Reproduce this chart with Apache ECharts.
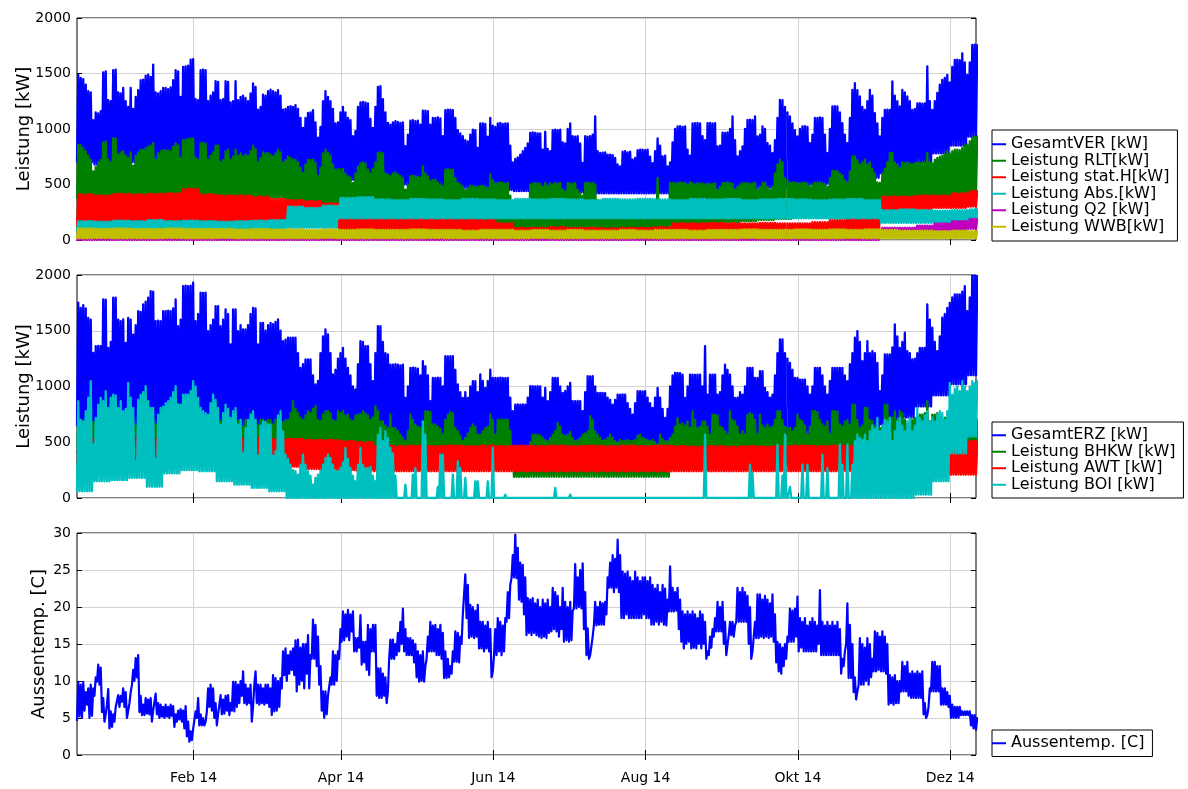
<!DOCTYPE html>
<html>
<head>
<meta charset="utf-8">
<script src="https://cdn.jsdelivr.net/npm/echarts@6/dist/echarts.min.js"></script>
<style>
  html, body { margin: 0; padding: 0; background: #ffffff; }
  #chart { width: 1188px; height: 789px; }
</style>
</head>
<body>
<div id="chart"></div>
<script>
// Hourly logger values condensed to one daily low and one daily high per channel.
// Daily arrays: one entry per day from 16.12.2013; weekly arrays: one entry per week.

const MONTH_TICKS = ['2014-02-01', '2014-04-01', '2014-06-01', '2014-08-01', '2014-10-01', '2014-12-01'];
const MONTH_LABELS = ['Feb 14', 'Apr 14', 'Jun 14', 'Aug 14', 'Okt 14', 'Dez 14'];
const POWER_TICKS = [0, 500, 1000, 1500, 2000];
const TEMP_TICKS = [0, 5, 10, 15, 20, 25, 30];
const MISSING_DAYS = [284];

// ---- Verbraucher (kW) ----
const VER_HI = [
  1490, 1460, 1450, 1400, 1340, 1330, 1080,
  1150, 1140, 1160, 1510, 1520, 1260, 1250,
  1530, 1535, 1330, 1320, 1370, 1250, 1200,
  1370, 1180, 1290, 1350, 1440, 1445, 1480,
  1490, 1470, 1580, 1330, 1320, 1340, 1370,
  1370, 1360, 1375, 1440, 1530, 1520, 1290,
  1560, 1565, 1570, 1625, 1630, 1270, 1260,
  1530, 1535, 1530, 1250, 1300, 1330, 1430,
  1425, 1260, 1270, 1430, 1425, 1240, 1250,
  1430, 1260, 1290, 1300, 1280, 1250, 1320,
  1410, 1380, 1175, 1200, 1310, 1300, 1340,
  1355, 1340, 1330, 1350, 1300, 1175, 1180,
  1200, 1205, 1200, 1215, 1180, 1100, 1010,
  1100, 1145, 1150, 1170, 1060, 922, 1020,
  1250, 1340, 1290, 1250, 1180, 1050, 1060,
  1150, 1200, 1150, 1100, 1080, 935, 980,
  1200, 1240, 1245, 1240, 1230, 1090, 1010,
  1200, 1380, 1385, 1270, 1150, 1055, 1040,
  1060, 1070, 1065, 1055, 1060, 845, 950,
  1075, 1080, 1070, 1075, 1040, 1165, 1165,
  1160, 1040, 1100, 1100, 1105, 1095, 935,
  1170, 1175, 1175, 1170, 1100, 990, 960,
  935, 900, 888, 950, 995, 990, 830,
  1050, 1050, 1045, 930, 1100, 1030, 1020,
  1050, 1055, 1045, 1050, 1050, 850, 700,
  730, 745, 770, 800, 830, 870, 965,
  970, 965, 960, 960, 815, 975, 820,
  800, 990, 995, 990, 995, 880, 870,
  1000, 1050, 935, 930, 935, 870, 695,
  935, 930, 935, 950, 1113, 800, 785,
  786, 790, 770, 768, 765, 740, 680,
  663, 795, 800, 790, 795, 725, 740,
  810, 813, 815, 810, 813, 750, 693,
  800, 915, 850, 753, 760, 663, 700,
  880, 1000, 1023, 1025, 1020, 1023, 815,
  760, 1050, 1053, 1055, 1050, 935, 900,
  1053, 1055, 1050, 1052, 843, 850, 966,
  965, 970, 1000, 1113, 900, 753, 800,
  843, 1000, 1083, 1085, 1080, 1113, 933,
  950, 1023, 1000, 873, 850, 783, 900,
  1100, 1263, 1260, 1200, 1150, 1113, 1050,
  990, 933, 1000, 1023, 1025, 1020, 873,
  950, 1100, 1100, 1105, 1100, 950, 783,
  1000, 1203, 1205, 1203, 1150, 1053, 950,
  873, 1100, 1353, 1413, 1350, 1293, 1200,
  1173, 1250, 1353, 1300, 1143, 1050, 933,
  1100, 1173, 1175, 1173, 1428, 1300, 1250,
  1203, 1353, 1330, 1293, 1250, 1173, 1180,
  1230, 1232, 1228, 1230, 1563, 1250, 1173,
  1250, 1325, 1400, 1443, 1460, 1488, 1420,
  1560, 1623, 1625, 1620, 1680, 1600, 1488,
  1600, 1757, 1760, 1755
];
const VER_LO_WEEKLY = [
  700, 680, 700, 700, 720, 720, 730, 700, 680, 680, 650, 640,
  600, 580, 560, 540, 530,
  520, 500, 500, 490, 480, 470, 460, 450, 440,
  440, 430, 430, 420, 420, 420, 420, 420, 430, 430,
  440, 450, 460, 470, 480, 490, 500, 510, 520,
  560, 600, 650, 700, 780, 850, 930
];

const RLT_HI = [
  858, 855, 830, 800, 760, 724, 619,
  660, 700, 720, 880, 888, 724, 700,
  918, 915, 770, 790, 800, 760, 740,
  790, 670, 760, 790, 814, 810, 830,
  840, 850, 873, 724, 780, 800, 810,
  810, 805, 800, 840, 873, 850, 740,
  900, 905, 910, 912, 915, 740, 720,
  873, 875, 870, 724, 760, 790, 850,
  850, 700, 720, 800, 814, 724, 750,
  814, 760, 780, 754, 770, 760, 800,
  850, 820, 700, 740, 790, 780, 784,
  770, 754, 780, 814, 790, 700, 720,
  754, 740, 724, 724, 700, 650, 604,
  680, 724, 720, 724, 700, 575, 650,
  780, 814, 784, 760, 680, 634, 640,
  634, 640, 600, 575, 560, 515, 600,
  660, 690, 700, 690, 634, 600, 640,
  700, 784, 790, 780, 600, 589, 575,
  600, 610, 590, 575, 560, 454, 500,
  575, 580, 575, 570, 560, 664, 600,
  575, 530, 540, 545, 520, 500, 480,
  634, 640, 630, 634, 560, 514, 500,
  480, 454, 470, 490, 484, 480, 484,
  484, 490, 480, 470, 589, 540, 514,
  514, 520, 514, 510, 514, 400, 250,
  240, 230, 245, 250, 240, 230, 500,
  510, 514, 510, 505, 480, 514, 490,
  510, 500, 514, 510, 514, 454, 440,
  514, 510, 505, 514, 454, 420, 400,
  514, 520, 510, 514, 500, 360, 250,
  250, 245, 240, 250, 245, 230, 230,
  240, 250, 245, 250, 240, 230, 240,
  245, 250, 245, 240, 250, 230, 240,
  245, 560, 250, 245, 240, 230, 514,
  514, 510, 514, 520, 514, 514, 500,
  520, 514, 500, 514, 505, 510, 500,
  510, 500, 505, 510, 454, 480, 514,
  514, 520, 510, 505, 454, 480, 500,
  514, 510, 514, 505, 510, 514, 454,
  480, 514, 520, 480, 454, 480, 600,
  680, 724, 700, 560, 540, 514, 520,
  520, 514, 510, 514, 520, 510, 480,
  500, 514, 520, 514, 510, 500, 480,
  560, 622, 620, 622, 600, 580, 540,
  520, 620, 754, 754, 720, 680, 700,
  724, 680, 700, 640, 600, 520, 514,
  600, 640, 700, 784, 784, 700, 680,
  650, 700, 690, 700, 690, 680, 690,
  700, 700, 690, 700, 784, 700, 690,
  724, 740, 750, 760, 770, 800, 780,
  800, 814, 815, 810, 830, 850, 860,
  890, 920, 930, 933
];
const RLT_LO_WEEKLY = [
  380, 380, 380, 380, 380, 380, 380, 380, 380, 380, 380, 380,
  300, 250, 200, 180, 160,
  105, 105, 105, 105, 105, 105, 105, 105, 105, 105, 105, 105, 105, 105, 105, 105, 105,
  130, 140, 150, 160, 170, 180, 190, 200, 200, 200, 220, 240,
  300, 330, 350, 380, 400, 420
];

const STATH_HI_WEEKLY = [
  410, 400, 415, 410, 415, 420, 460, 410, 400, 400, 390, 370,
  360, 350, 330, 220, 210,
  210, 200, 200, 190, 190, 190, 180, 150, 110,
  110, 115, 110, 110, 105, 110, 110, 115,
  150, 150, 155, 150, 150, 155, 150, 150, 160,
  180, 200, 220,
  390, 390, 400, 400, 420, 440
];
const STATH_LO_WEEKLY = [
  120, 120, 120, 120, 120, 120, 120, 120, 120, 120, 120, 120, 120, 120, 120,
  30, 30, 30, 30, 30, 30, 30, 30, 30, 30, 30, 30, 30, 30, 30, 30,
  30, 30, 30, 30, 30, 30, 30, 30, 30, 30, 30, 30, 30, 30, 30,
  270, 280, 280, 290, 290, 300
];

const ABS_HI_WEEKLY = [
  170, 165, 175, 170, 180, 170, 175, 170, 165, 170, 175, 180,
  300, 290, 310, 380, 385,
  365, 360, 370, 365, 360, 370, 365, 360, 370, 365,
  370, 365, 360, 370, 365, 370, 365, 360, 370, 365,
  370, 360, 365, 370, 365, 360, 365, 370, 360,
  270, 275, 270, 265, 270, 275
];
const ABS_LO_WEEKLY = [
  90, 90, 90, 90, 90, 90, 90, 90, 90, 90, 90, 90,
  110, 110, 110,
  195, 195, 195, 195, 195, 195, 195, 195, 195, 195, 195,
  195, 195, 195, 195, 195, 195, 195, 195, 195, 195,
  195, 195, 195, 195, 195, 195, 195, 195, 195, 195,
  155, 155, 155, 155, 155, 155
];

const Q2_HI_WEEKLY = [
  60, 60, 60, 60, 60, 60, 60, 60, 60, 60,
  60, 60, 60, 60, 60, 60, 60, 60, 60, 60,
  60, 60, 60, 60, 60, 60, 60, 60, 60, 60,
  60, 60, 60, 60, 60, 60, 60, 60, 60, 60,
  60, 60, 60, 60, 60,
  90, 110, 110, 130, 150, 170, 190
];
const Q2_LO_WEEKLY = [
  0, 0, 0, 0, 0, 0, 0, 0, 0, 0,
  0, 0, 0, 0, 0, 0, 0, 0, 0, 0,
  0, 0, 0, 0, 0, 0, 0, 0, 0, 0,
  0, 0, 0, 0, 0, 0, 0, 0, 0, 0,
  0, 0, 0, 0, 0, 0,
  60, 60, 70, 80, 90, 100
];

const WWB_HI_WEEKLY = [
  105, 100, 105, 100, 100, 105, 100, 100, 100, 95,
  100, 95, 95, 90, 95, 90, 95, 90, 90, 95,
  90, 90, 85, 90, 90, 85, 90, 85, 90, 85,
  85, 90, 85, 90, 90, 85, 90, 90, 95, 90,
  90, 95, 90, 95, 90, 95, 90, 85, 85, 80,
  85, 80
];
const WWB_LO_WEEKLY = [
  15, 18, 15, 16, 15, 18, 15, 15, 17, 15,
  15, 16, 15, 15, 18, 15, 15, 16, 15, 15,
  17, 15, 15, 16, 15, 15, 18, 15, 15, 16,
  15, 15, 17, 15, 15, 16, 15, 15, 18, 15,
  15, 16, 15, 15, 17, 15, 15, 16, 15, 15,
  18, 15
];

// ---- Erzeuger (kW) ----
const ERZ_HI = [
  1751, 1706, 1730, 1700, 1616, 1600, 1302,
  1362, 1365, 1362, 1781, 1780, 1347, 1400,
  1796, 1796, 1600, 1586, 1601, 1392, 1616,
  1600, 1467, 1550, 1676, 1670, 1736, 1760,
  1796, 1856, 1850, 1586, 1590, 1586, 1676,
  1676, 1680, 1676, 1700, 1781, 1541, 1600,
  1901, 1905, 1900, 1905, 1931, 1586, 1650,
  1841, 1840, 1841, 1496, 1550, 1600, 1721,
  1720, 1541, 1600, 1691, 1650, 1377, 1691,
  1691, 1496, 1550, 1511, 1511, 1550, 1650,
  1706, 1700, 1377, 1571, 1570, 1500, 1550,
  1571, 1560, 1580, 1601, 1500, 1407, 1420,
  1437, 1437, 1437, 1437, 1300, 1167, 1200,
  1242, 1242, 1242, 1100, 1018, 1050, 1300,
  1450, 1511, 1467, 1300, 1108, 1150, 1250,
  1300, 1347, 1250, 1167, 1100, 1000, 973,
  1200, 1407, 1400, 1362, 1362, 1200, 1048,
  1300, 1541, 1541, 1400, 1300, 1287, 1197,
  1197, 1200, 1197, 1190, 1197, 898, 1000,
  1167, 1170, 1167, 1160, 1100, 1227, 1182,
  1100, 868, 1077, 1077, 1080, 1077, 1000,
  1272, 1270, 1272, 1272, 1150, 1018, 950,
  898, 950, 898, 1000, 1048, 1048, 950,
  1108, 1050, 988, 1050, 1152, 1077, 1077,
  1077, 1080, 1077, 1075, 1077, 900, 778,
  838, 840, 838, 840, 838, 900, 1003,
  1003, 1000, 1003, 1000, 900, 988, 868,
  950, 1077, 1077, 1077, 1000, 943, 960,
  1000, 1033, 868, 868, 870, 868, 778,
  950, 1092, 1090, 1092, 1000, 943, 943,
  943, 940, 900, 880, 838, 880, 928,
  928, 930, 928, 850, 800, 748, 850,
  958, 958, 955, 958, 900, 850, 808,
  900, 988, 900, 800, 718, 800, 1000,
  1100, 1122, 1122, 1120, 1107, 898, 1000,
  1107, 1107, 1105, 1107, 1107, 1000, 1362,
  928, 1107, 1107, 1107, 928, 950, 1100,
  1197, 1150, 1107, 1000, 898, 900, 950,
  928, 1000, 1167, 1167, 1167, 1077, 1077,
  1137, 1137, 988, 950, 900, 928, 1100,
  1300, 1422, 1422, 1300, 1250, 1212, 1150,
  1077, 1077, 1062, 1062, 1062, 1000, 928,
  1000, 1167, 1167, 1167, 1100, 1000, 928,
  1050, 1167, 1167, 1167, 1167, 1167, 1100,
  1048, 1200, 1300, 1437, 1497, 1400, 1227,
  1300, 1407, 1300, 1317, 1300, 1212, 958,
  1100, 1287, 1287, 1287, 1350, 1557, 1450,
  1347, 1400, 1482, 1317, 1300, 1242, 1250,
  1300, 1347, 1347, 1347, 1736, 1600, 1527,
  1400, 1317, 1450, 1617, 1650, 1706, 1750,
  1800, 1826, 1826, 1826, 1850, 1901, 1676,
  1800, 1991, 1991, 1991
];
const ERZ_LO_WEEKLY = [
  650, 650, 650, 650, 660, 660, 660, 660, 650, 650, 640, 640,
  620, 600, 580, 560, 540,
  520, 510, 500, 500, 490, 480, 470, 460, 450,
  450, 450, 440, 440, 440, 440, 440, 440,
  540, 550, 560, 560, 570, 570, 570, 580, 580, 580, 590,
  620, 660, 720, 820, 920, 1020, 1100
];

const BHKW_HI = [
  700, 700, 690, 700, 703, 700, 680,
  690, 700, 700, 703, 700, 690, 700,
  703, 700, 695, 700, 700, 690, 700,
  700, 690, 650, 703, 700, 700, 695,
  700, 703, 700, 660, 700, 700, 703,
  700, 700, 695, 700, 703, 690, 700,
  703, 700, 700, 703, 700, 690, 700,
  700, 700, 703, 690, 700, 700, 700,
  703, 690, 700, 700, 703, 690, 700,
  700, 690, 700, 640, 700, 690, 700,
  703, 700, 650, 700, 700, 690, 700,
  700, 660, 703, 700, 690, 680, 700,
  700, 760, 868, 800, 760, 720, 700,
  740, 778, 760, 800, 823, 700, 690,
  750, 778, 780, 760, 700, 690, 778,
  760, 778, 740, 748, 700, 690, 740,
  748, 750, 778, 760, 740, 700, 720,
  823, 778, 688, 688, 650, 629, 748,
  629, 629, 600, 569, 540, 509, 600,
  748, 700, 659, 640, 629, 640, 778,
  778, 770, 659, 659, 640, 620, 569,
  700, 748, 770, 760, 629, 600, 560,
  509, 540, 580, 629, 659, 640, 569,
  569, 600, 629, 640, 748, 700, 569,
  703, 703, 700, 703, 703, 600, 400,
  380, 360, 380, 370, 380, 360, 500,
  569, 569, 569, 560, 540, 520, 509,
  540, 569, 600, 673, 640, 569, 560,
  569, 590, 540, 509, 520, 540, 569,
  580, 600, 733, 700, 600, 569, 540,
  509, 520, 540, 569, 540, 509, 500,
  520, 509, 515, 520, 509, 509, 520,
  560, 569, 540, 530, 520, 509, 520,
  500, 480, 569, 530, 509, 509, 540,
  569, 640, 718, 658, 670, 650, 688,
  629, 778, 700, 629, 640, 688, 688,
  640, 569, 748, 748, 740, 640, 629,
  600, 569, 778, 700, 688, 640, 569,
  600, 569, 748, 760, 748, 700, 569,
  748, 650, 629, 659, 629, 640, 700,
  778, 778, 700, 640, 630, 629, 600,
  629, 748, 700, 688, 650, 569, 640,
  778, 778, 770, 700, 659, 640, 688,
  569, 778, 778, 775, 659, 640, 688,
  700, 659, 838, 838, 700, 629, 650,
  808, 808, 700, 688, 640, 629, 629,
  640, 838, 838, 720, 720, 778, 700,
  778, 760, 700, 659, 650, 700, 718,
  720, 748, 748, 760, 868, 690, 748,
  748, 760, 688, 700, 720, 700, 700,
  700, 720, 700, 700, 720, 700, 700,
  700, 700, 700, 700
];
const BHKW_LO_WEEKLY = [
  400, 400, 400, 400, 400, 400, 400, 400, 400, 400, 400, 400,
  350, 300, 300, 300, 300,
  270, 270, 270, 270, 270, 270, 270, 270,
  190, 190, 190, 190, 190, 190, 190, 190, 190,
  290, 290, 290, 290, 290, 290, 290, 290, 290,
  290, 290, 290, 290, 290, 290, 290, 290, 290
];

const AWT_HI_WEEKLY = [
  540, 545, 540, 550, 540, 545, 540, 545, 540, 535, 540, 530,
  530, 520, 520, 510, 500,
  470, 465, 470, 465, 470, 465, 470, 465, 470, 465,
  470, 465, 470, 465, 470, 465, 470, 465, 460, 465,
  460, 465, 460, 465, 470, 465, 470, 465, 470,
  480, 490, 500, 510, 510, 510
];
const AWT_LO_WEEKLY = [
  320, 320, 320, 320, 320, 320, 320, 320, 320, 320, 320, 320,
  280, 260, 250, 250, 245,
  240, 240, 240, 240, 240, 240, 240, 240, 240, 240,
  240, 240, 240, 240, 240, 240, 240, 240, 240, 240,
  240, 240, 240, 240, 240, 240, 240, 240, 240,
  230, 220, 220, 210, 210, 210
];

const BOI_HI = [
  868, 700, 688, 778, 900, 1048, 480,
  718, 838, 898, 870, 958, 808, 900,
  928, 920, 808, 868, 778, 800, 1033,
  900, 808, 330, 880, 928, 950, 1003,
  868, 808, 808, 350, 748, 808, 820,
  850, 868, 900, 950, 1003, 840, 838,
  928, 930, 928, 960, 1048, 1000, 898,
  808, 778, 760, 748, 850, 928, 880,
  808, 658, 760, 838, 800, 718, 780,
  808, 658, 700, 400, 629, 700, 750,
  778, 700, 380, 650, 688, 680, 660,
  658, 380, 420, 740, 778, 600, 389,
  350, 299, 250, 240, 210, 300, 389,
  300, 240, 200, 120, 180, 210, 240,
  300, 359, 389, 359, 300, 250, 240,
  269, 320, 449, 350, 269, 200, 150,
  300, 449, 300, 269, 269, 280, 200,
  150, 569, 629, 509, 600, 540, 449,
  400, 200, 0, 0, 0, 120, 0,
  0, 210, 269, 0, 0, 688, 569,
  0, 0, 0, 0, 100, 389, 389,
  0, 0, 0, 210, 0, 329, 269,
  0, 180, 0, 0, 0, 150, 150,
  0, 0, 0, 150, 0, 449, 0,
  0, 0, 0, 30, 0, 0, 0,
  0, 0, 0, 0, 0, 0, 0,
  0, 0, 0, 0, 0, 0, 0,
  0, 0, 90, 0, 0, 0, 0,
  0, 30, 0, 0, 0, 0, 0,
  0, 0, 0, 0, 0, 0, 0,
  0, 0, 0, 0, 0, 0, 0,
  0, 0, 0, 0, 0, 0, 0,
  0, 0, 0, 0, 0, 0, 0,
  0, 0, 0, 0, 0, 0, 0,
  0, 0, 0, 0, 0, 0, 0,
  0, 0, 0, 0, 0, 0, 569,
  0, 0, 0, 0, 0, 0, 0,
  0, 0, 0, 0, 0, 0, 0,
  0, 0, 0, 299, 225, 0, 0,
  0, 0, 0, 0, 0, 0, 0,
  479, 0, 200, 569, 0, 100, 0,
  0, 0, 0, 299, 0, 299, 0,
  0, 0, 0, 0, 389, 0, 269,
  0, 0, 0, 0, 479, 300, 0,
  479, 0, 300, 509, 569, 540, 520,
  569, 509, 599, 650, 620, 718, 599,
  650, 700, 689, 718, 509, 600, 689,
  718, 650, 600, 689, 718, 600, 650,
  808, 718, 689, 740, 778, 689, 720,
  688, 750, 778, 760, 700, 778, 1033,
  928, 980, 1000, 958, 1048, 1000, 958,
  1000, 1048, 1030, 1048
];
const BOI_LO_WEEKLY = [
  60, 150, 160, 180, 100, 220, 250, 240, 150, 120, 90, 60,
  0, 0, 0, 0, 0, 0, 0, 0, 0, 0, 0, 0,
  0, 0, 0, 0, 0, 0, 0, 0, 0, 0, 0, 0,
  0, 0, 0, 0, 0, 0, 0, 0, 0, 0, 0, 0,
  30, 150, 400, 550
];

// ---- Aussentemperatur (°C) ----
const TEMP_HI = [
  9.9, 9.5, 9.9, 8.5, 9.0, 9.5, 9.0,
  10.5, 12.2, 11.8, 7.7, 5.5, 8.9, 5.9,
  5.5, 6.5, 8.1, 8.0, 9.0, 8.5, 6.0,
  8.5, 11.5, 13.1, 13.5, 8.0, 6.8, 7.7,
  7.5, 7.7, 6.0, 8.3, 7.0, 6.8, 6.5,
  6.8, 6.5, 6.8, 6.6, 5.5, 6.0, 6.2,
  6.0, 6.6, 4.5, 3.2, 3.5, 5.9, 7.7,
  5.5, 5.0, 4.5, 9.0, 9.5, 9.0, 7.0,
  5.5, 8.1, 7.5, 8.0, 8.1, 7.0, 9.9,
  9.9, 9.5, 10.0, 11.3, 9.5, 9.0, 9.5,
  6.5, 11.3, 9.5, 9.5, 9.0, 9.5, 9.5,
  9.0, 10.8, 10.4, 10.0, 10.4, 14.0, 14.4,
  13.5, 14.0, 14.4, 15.5, 15.6, 14.5, 15.0,
  15.0, 16.2, 13.5, 18.3, 17.6, 16.0, 12.0,
  8.6, 8.6, 8.0, 10.5, 14.0, 13.5, 14.0,
  17.0, 19.4, 19.0, 19.6, 19.0, 19.4, 15.8,
  15.8, 18.9, 15.3, 15.3, 17.6, 17.0, 17.6,
  17.6, 11.7, 11.7, 11.0, 10.5, 8.6, 15.6,
  15.6, 15.0, 16.5, 18.0, 19.8, 17.0, 15.8,
  15.8, 15.5, 15.0, 14.0, 13.5, 14.0, 12.0,
  16.0, 18.0, 17.5, 17.6, 17.0, 17.6, 16.5,
  14.0, 13.0, 12.0, 14.0, 16.7, 16.5, 16.0,
  19.0, 24.4, 23.0, 20.3, 20.0, 19.5, 20.3,
  18.0, 18.0, 17.5, 18.0, 17.0, 11.3, 17.0,
  18.5, 18.0, 17.5, 18.5, 22.0, 23.0, 27.0,
  29.8, 28.0, 26.0, 25.7, 24.0, 21.2, 21.0,
  21.2, 20.5, 21.0, 20.0, 21.0, 20.5, 21.0,
  20.0, 22.6, 22.0, 21.5, 20.0, 22.6, 20.7,
  20.0, 20.7, 19.5, 25.8, 24.0, 25.0, 25.9,
  22.0, 17.1, 13.5, 16.0, 20.7, 20.0, 20.7,
  20.5, 20.7, 24.0, 26.0, 27.0, 26.5, 29.1,
  27.0, 24.8, 24.5, 24.8, 24.0, 23.5, 24.8,
  24.0, 23.5, 24.0, 24.0, 23.5, 24.0, 23.0,
  22.5, 23.0, 22.0, 23.0, 22.5, 21.0, 25.5,
  22.6, 22.0, 22.6, 21.0, 19.4, 19.0, 19.4,
  19.0, 19.4, 19.0, 18.5, 19.4, 19.0, 18.0,
  14.0, 16.0, 17.0, 18.5, 20.7, 20.0, 20.7,
  18.0, 14.9, 18.0, 18.0, 17.5, 22.6, 22.0,
  22.6, 22.0, 21.5, 20.0, 14.0, 18.0, 21.7,
  21.7, 21.0, 21.5, 21.0, 20.5, 21.7, 19.0,
  15.3, 15.0, 14.5, 15.0, 16.0, 19.8, 19.5,
  19.8, 21.4, 18.5, 18.0, 18.5, 17.5, 18.0,
  18.5, 18.0, 17.5, 22.3, 18.0, 17.5, 18.0,
  17.5, 18.0, 17.5, 18.0, 17.0, 13.0, 14.0,
  20.5, 17.6, 15.0, 10.5, 8.6, 15.8, 15.0,
  14.5, 15.8, 15.0, 13.0, 16.7, 16.5, 16.0,
  16.7, 16.0, 15.0, 10.8, 10.5, 10.8, 10.0,
  10.0, 12.6, 12.0, 12.6, 11.0, 11.3, 11.0,
  11.3, 11.0, 11.3, 7.0, 5.4, 9.0, 12.6,
  12.6, 12.0, 12.0, 9.0, 9.0, 8.5, 8.0,
  6.8, 6.5, 6.5, 6.5, 5.9, 5.9, 5.9,
  5.9, 5.4, 5.4, 5.0
];
const TEMP_LO = [
  4.7, 5.2, 5.0, 6.0, 6.8, 5.0, 5.3,
  8.0, 9.9, 9.5, 5.8, 4.5, 6.8, 3.6,
  3.8, 4.5, 6.3, 6.5, 7.2, 6.5, 5.0,
  7.0, 9.5, 10.0, 10.5, 5.8, 5.4, 5.4,
  5.6, 5.5, 4.5, 6.0, 5.5, 5.0, 5.2,
  5.0, 5.2, 5.0, 5.3, 3.8, 4.5, 4.8,
  4.5, 3.6, 2.5, 1.8, 2.0, 3.5, 5.0,
  4.0, 4.0, 4.0, 5.9, 6.5, 6.0, 5.0,
  4.0, 5.4, 5.5, 5.6, 6.0, 5.4, 6.0,
  5.9, 6.5, 7.0, 8.0, 7.0, 6.8, 7.0,
  4.5, 9.5, 7.0, 6.8, 7.0, 6.8, 7.0,
  6.5, 5.4, 5.9, 6.0, 6.5, 9.0, 10.8,
  10.0, 11.0, 11.5, 10.8, 8.6, 9.5, 10.0,
  9.0, 11.0, 9.0, 13.0, 13.0, 12.0, 9.5,
  6.0, 5.0, 5.5, 8.0, 9.5, 9.5, 10.0,
  13.0, 15.3, 15.5, 16.0, 15.5, 16.7, 14.0,
  14.0, 14.5, 12.2, 12.5, 11.5, 10.8, 14.0,
  14.0, 8.0, 7.7, 7.7, 8.0, 7.0, 13.0,
  13.0, 13.0, 13.5, 14.0, 15.0, 14.0, 13.5,
  13.5, 13.5, 12.5, 10.5, 9.9, 10.0, 9.9,
  13.0, 14.0, 14.0, 14.0, 13.5, 13.5, 13.0,
  10.4, 10.4, 10.5, 11.0, 12.6, 12.6, 12.5,
  15.0, 18.9, 18.5, 15.8, 16.0, 15.8, 16.0,
  14.4, 14.4, 14.0, 14.4, 14.0, 10.5, 13.5,
  13.5, 14.0, 13.5, 14.0, 18.0, 18.5, 23.9,
  24.0, 23.9, 21.0, 20.7, 19.0, 16.2, 16.5,
  16.2, 16.5, 16.2, 16.0, 15.8, 16.0, 15.8,
  16.5, 16.7, 17.0, 16.7, 16.0, 17.0, 15.3,
  15.5, 15.3, 15.5, 19.8, 19.8, 20.0, 19.8,
  17.0, 13.5, 13.0, 13.5, 17.6, 17.5, 17.6,
  17.6, 17.6, 19.0, 22.6, 22.6, 22.0, 22.6,
  22.0, 18.5, 18.5, 19.0, 18.5, 18.5, 18.5,
  18.5, 18.5, 18.5, 19.0, 18.5, 18.5, 17.6,
  17.6, 18.0, 17.6, 18.0, 17.6, 17.5, 19.4,
  19.4, 19.4, 19.5, 17.0, 15.3, 14.4, 15.0,
  15.3, 14.4, 14.5, 14.4, 15.0, 14.4, 15.0,
  13.0, 13.5, 14.5, 16.0, 16.7, 16.7, 16.7,
  15.0, 13.5, 16.2, 16.2, 16.0, 18.0, 18.0,
  18.0, 18.0, 18.0, 15.0, 13.0, 14.0, 15.8,
  15.8, 16.0, 15.8, 16.0, 15.8, 16.0, 15.3,
  12.5, 11.3, 11.0, 12.0, 13.0, 15.3, 15.3,
  15.3, 16.0, 14.0, 14.5, 14.0, 14.0, 14.0,
  14.0, 14.0, 14.0, 15.0, 13.5, 13.5, 13.5,
  13.5, 13.5, 13.5, 13.5, 13.5, 11.0, 12.0,
  15.0, 10.4, 10.4, 8.5, 7.5, 9.5, 9.5,
  9.5, 10.0, 9.5, 10.5, 11.3, 11.3, 11.5,
  11.3, 11.3, 11.0, 6.8, 7.0, 6.8, 7.0,
  7.0, 8.6, 8.6, 8.6, 8.0, 7.7, 7.7,
  7.7, 7.7, 7.7, 5.5, 5.0, 6.5, 8.6,
  8.6, 8.6, 8.6, 6.8, 6.8, 6.8, 6.5,
  5.0, 5.0, 5.0, 5.0, 5.4, 5.4, 5.4,
  5.4, 4.0, 3.6, 3.4
];

// ---- time handling: x is measured in days since 16.12.2013 00:00 ----
const DAY_MS = 86400000;
const SERIES_START = Date.UTC(2013, 11, 16);
const START_OFFSET = 0.3;          // first sample falls a few hours into 16.12.
const NDAYS = 361;
const AXIS_MIN = START_OFFSET;
const AXIS_MAX = START_OFFSET + 360;
const TICK_DAYS = MONTH_TICKS.map(s =>
  (Date.UTC(+s.slice(0, 4), +s.slice(5, 7) - 1, +s.slice(8, 10)) - SERIES_START) / DAY_MS);

function valueAt(arr, step, d) {
  const v = arr[Math.floor(d / step)];
  return v === undefined ? null : v;
}

// Daily swing: low at the start of each day, high around midday.
// A logger outage leaves a short break between the low and the high reading.
function dailySwing(lo, loStep, hi, hiStep, missing) {
  const pts = [];
  for (let d = 0; d < NDAYS; d++) {
    const x0 = d + START_OFFSET;
    const h = valueAt(hi, hiStep, d);
    const l = valueAt(lo, loStep, d);
    pts.push([x0, l]);
    if (missing && missing.indexOf(d) >= 0) pts.push([x0 + 0.25, null]);
    pts.push([x0 + 0.5, h]);
  }
  return pts;
}

const FONT = 'DejaVu Sans';
const C = {
  blue: '#0000ff', green: '#008000', red: '#ff0000',
  cyan: '#00bfbf', magenta: '#bf00bf', yellow: '#bfbf00'
};

const seriesDefs = [
  { name: 'GesamtVER [kW]',       g: 0, color: C.blue,    lo: VER_LO_WEEKLY,   ls: 7, hi: VER_HI,          hs: 1 },
  { name: 'Leistung RLT[kW]',     g: 0, color: C.green,   lo: RLT_LO_WEEKLY,   ls: 7, hi: RLT_HI,          hs: 1 },
  { name: 'Leistung stat.H[kW]',  g: 0, color: C.red,     lo: STATH_LO_WEEKLY, ls: 7, hi: STATH_HI_WEEKLY, hs: 7 },
  { name: 'Leistung Abs.[kW]',    g: 0, color: C.cyan,    lo: ABS_LO_WEEKLY,   ls: 7, hi: ABS_HI_WEEKLY,   hs: 7 },
  { name: 'Leistung Q2 [kW]',     g: 0, color: C.magenta, lo: Q2_LO_WEEKLY,    ls: 7, hi: Q2_HI_WEEKLY,    hs: 7 },
  { name: 'Leistung WWB[kW]',     g: 0, color: C.yellow,  lo: WWB_LO_WEEKLY,   ls: 7, hi: WWB_HI_WEEKLY,   hs: 7 },
  { name: 'GesamtERZ [kW]',       g: 1, color: C.blue,    lo: ERZ_LO_WEEKLY,   ls: 7, hi: ERZ_HI,          hs: 1 },
  { name: 'Leistung BHKW [kW]',   g: 1, color: C.green,   lo: BHKW_LO_WEEKLY,  ls: 7, hi: BHKW_HI,         hs: 1 },
  { name: 'Leistung AWT [kW]',    g: 1, color: C.red,     lo: AWT_LO_WEEKLY,   ls: 7, hi: AWT_HI_WEEKLY,   hs: 7 },
  { name: 'Leistung BOI [kW]',    g: 1, color: C.cyan,    lo: BOI_LO_WEEKLY,   ls: 7, hi: BOI_HI,          hs: 1 },
  { name: 'Aussentemp. [C]',      g: 2, color: C.blue,    lo: TEMP_LO,         ls: 1, hi: TEMP_HI,         hs: 1, temp: true }
];

const grids = [
  { left: 77, top: 18, width: 899, height: 222 },
  { left: 77, top: 275, width: 899, height: 223 },
  { left: 77, top: 533, width: 899, height: 222 }
].map(g => Object.assign(g, { show: true, borderColor: '#000', borderWidth: 1, backgroundColor: 'transparent' }));

const tickStyle = { show: true, inside: true, length: 5, lineStyle: { color: '#000', width: 1 } };
const gridLineStyle = { color: '#d2d2d2', width: 1, type: 'solid' };

function monthLabel(v) {
  let k = -1;
  TICK_DAYS.forEach((t, j) => { if (Math.abs(t - v) < 1e-6) k = j; });
  return k >= 0 ? MONTH_LABELS[k] : '';
}

const xAxes = [];
[0, 1, 2].forEach(i => {
  xAxes.push({
    type: 'value', gridIndex: i, min: AXIS_MIN, max: AXIS_MAX, position: 'bottom',
    axisLine: { show: false },
    axisTick: Object.assign({ customValues: TICK_DAYS }, tickStyle),
    splitLine: { show: true, lineStyle: gridLineStyle },
    axisLabel: {
      show: i === 2, customValues: TICK_DAYS, margin: 16, hideOverlap: false,
      fontFamily: FONT, fontSize: 14, color: '#000', formatter: monthLabel
    }
  });
});
[0, 1, 2].forEach(i => {
  xAxes.push({
    type: 'value', gridIndex: i, min: AXIS_MIN, max: AXIS_MAX, position: 'top',
    axisLine: { show: false },
    axisTick: Object.assign({ customValues: TICK_DAYS }, tickStyle),
    splitLine: { show: false },
    axisLabel: { show: false, customValues: TICK_DAYS }
  });
});

function yAxisFor(i, right) {
  const isTemp = i === 2;
  const ticks = isTemp ? TEMP_TICKS : POWER_TICKS;
  const ax = {
    type: 'value', gridIndex: i, position: right ? 'right' : 'left',
    min: ticks[0], max: ticks[ticks.length - 1], interval: ticks[1] - ticks[0],
    axisLine: { show: false },
    axisTick: tickStyle,
    splitLine: { show: !right, lineStyle: gridLineStyle },
    axisLabel: {
      show: !right, margin: 6, fontFamily: FONT, fontSize: 14, color: '#000',
      formatter: v => String(v)
    }
  };
  if (!right) {
    ax.name = isTemp ? 'Aussentemp. [C]' : 'Leistung [kW]';
    ax.nameLocation = 'middle';
    ax.nameRotate = 90;
    ax.nameMoveOverlap = false;
    ax.nameGap = isTemp ? 29 : 44;
    ax.nameTextStyle = { fontFamily: FONT, fontSize: 18, color: '#000' };
  }
  return ax;
}
const yAxes = [0, 1, 2].map(i => yAxisFor(i, false)).concat([0, 1, 2].map(i => yAxisFor(i, true)));

const series = seriesDefs.map(s => ({
  name: s.name,
  type: 'line',
  xAxisIndex: s.g,
  yAxisIndex: s.g,
  data: dailySwing(s.lo, s.ls, s.hi, s.hs, s.temp ? null : MISSING_DAYS),
  showSymbol: false,
  symbol: 'none',
  connectNulls: false,
  clip: true,
  color: s.color,
  lineStyle: { color: s.color, width: s.temp ? 2.2 : 2.3, join: 'round', cap: 'round' },
  emphasis: { disabled: true },
  animation: false
}));

function legendFor(names, top, pad) {
  return {
    data: names, orient: 'vertical', left: 992, top: top,
    icon: 'rect', itemWidth: 14, itemHeight: 2, itemGap: 0,
    padding: pad, borderColor: '#000', borderWidth: 1, borderRadius: 0,
    backgroundColor: '#fff', selectedMode: false,
    textStyle: { fontFamily: FONT, fontSize: 16, color: '#000', lineHeight: 16.5 }
  };
}

const chart = echarts.init(document.getElementById('chart'), null, { renderer: 'canvas' });
chart.setOption({
  backgroundColor: '#ffffff',
  animation: false,
  textStyle: { fontFamily: FONT },
  grid: grids,
  xAxis: xAxes,
  yAxis: yAxes,
  legend: [
    legendFor(seriesDefs.filter(s => s.g === 0).map(s => s.name), 130, [6, 8, 6, 0]),
    legendFor(seriesDefs.filter(s => s.g === 1).map(s => s.name), 422, [5, 8, 5, 0]),
    legendFor(seriesDefs.filter(s => s.g === 2).map(s => s.name), 730, [5, 8, 5, 0])
  ],
  series: series
});
</script>
</body>
</html>
